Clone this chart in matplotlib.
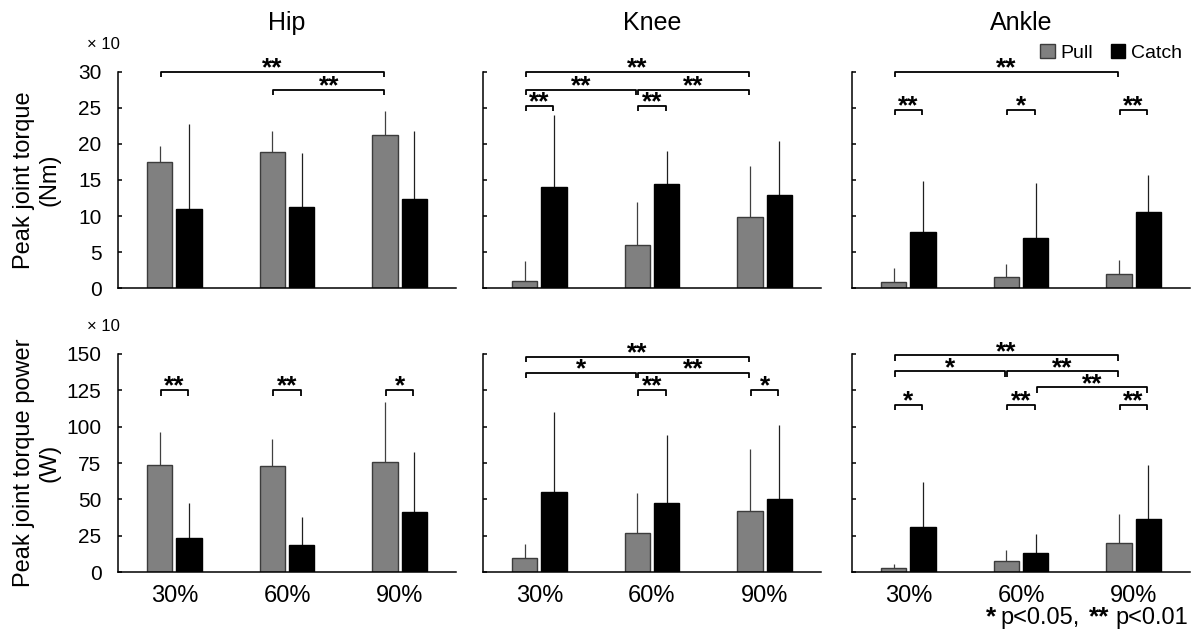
import matplotlib
matplotlib.use('Agg')
import matplotlib.pyplot as plt
import numpy as np

plt.rcParams['font.family'] = ['Liberation Sans', 'DejaVu Sans']

joints = ['Hip', 'Knee', 'Ankle']
speeds = ['30%', '60%', '90%']

# peak joint torque (x10 Nm): means and SD
torque_pull = {'Hip': [17.5, 18.9, 21.2], 'Knee': [0.93, 6.0, 9.9], 'Ankle': [0.83, 1.57, 1.94]}
torque_pull_sd = {'Hip': [2.2, 2.9, 3.4], 'Knee': [2.9, 6.0, 7.0], 'Ankle': [1.9, 1.8, 2.0]}
torque_catch = {'Hip': [11.0, 11.3, 12.4], 'Knee': [14.0, 14.4, 12.9], 'Ankle': [7.8, 7.0, 10.6]}
torque_catch_sd = {'Hip': [11.8, 7.4, 9.4], 'Knee': [10.0, 4.6, 7.5], 'Ankle': [7.1, 7.6, 5.1]}

# peak joint torque power (x10 W): means and SD
power_pull = {'Hip': [73.6, 72.9, 75.9], 'Knee': [9.9, 27.1, 42.3], 'Ankle': [3.0, 7.8, 20.0]}
power_pull_sd = {'Hip': [23.0, 18.9, 41.4], 'Knee': [9.7, 27.2, 42.1], 'Ankle': [2.5, 7.6, 20.0]}
power_catch = {'Hip': [23.7, 18.9, 41.6], 'Knee': [55.0, 47.2, 50.4], 'Ankle': [30.8, 13.1, 36.6]}
power_catch_sd = {'Hip': [23.9, 19.1, 41.2], 'Knee': [55.0, 47.3, 50.6], 'Ankle': [31.2, 13.1, 37.0]}

# significance brackets: (from bar, to bar, level, label); p=Pull, c=Catch, digit=speed index
torque_sig = {
    'Hip': [('p0', 'p2', 30, '**'), ('p1', 'p2', 27.5, '**')],
    'Knee': [('p0', 'p2', 30, '**'), ('p0', 'p1', 27.5, '**'), ('p1', 'p2', 27.5, '**'),
             ('p0', 'c0', 25.3, '**'), ('p1', 'c1', 25.3, '**')],
    'Ankle': [('p0', 'p2', 30, '**'), ('p0', 'c0', 24.7, '**'), ('p1', 'c1', 24.7, '*'),
              ('p2', 'c2', 24.7, '**')],
}
power_sig = {
    'Hip': [('p0', 'c0', 125, '**'), ('p1', 'c1', 125, '**'), ('p2', 'c2', 125, '*')],
    'Knee': [('p0', 'p2', 148, '**'), ('p0', 'p1', 137, '*'), ('p1', 'p2', 137, '**'),
             ('p1', 'c1', 125, '**'), ('p2', 'c2', 125, '*')],
    'Ankle': [('p0', 'p2', 149, '**'), ('p0', 'p1', 138, '*'), ('p1', 'p2', 138, '**'),
              ('c1', 'c2', 127, '**'), ('p0', 'c0', 115, '*'), ('p1', 'c1', 115, '**'),
              ('p2', 'c2', 115, '**')],
}

off = 0.13
width = 0.225


def bar_x(code):
    return int(code[1]) + (-off if code[0] == 'p' else off)


def draw_panel(ax, pull, pull_sd, catch, catch_sd, sigs, ymax, step):
    x = np.arange(len(speeds))
    bp = ax.bar(x - off, pull, width, color='#808080', edgecolor='#3c3c3c', linewidth=1.0, zorder=2, label='Pull')
    bc = ax.bar(x + off, catch, width, color='black', edgecolor='black', linewidth=1.0, zorder=2, label='Catch')
    ax.errorbar(x - off, pull, yerr=[np.zeros(3), pull_sd], fmt='none', ecolor='#404040', elinewidth=0.9, capsize=0, zorder=1)
    ax.errorbar(x + off, catch, yerr=[np.zeros(3), catch_sd], fmt='none', ecolor='#202020', elinewidth=0.9, capsize=0, zorder=1)
    ax.set_xlim(-0.5, 2.5)
    ax.set_ylim(0, ymax)
    ax.set_yticks(np.arange(0, ymax + 1, step))
    ax.spines['top'].set_visible(False)
    ax.spines['right'].set_visible(False)
    ax.spines['left'].set_linewidth(1.1)
    ax.spines['bottom'].set_linewidth(1.1)
    ax.tick_params(axis='y', direction='in', length=3, width=1.1, labelsize=15, pad=12)
    ax.tick_params(axis='x', length=0, labelsize=17, pad=9)
    drop = ymax * 0.025
    for a, b, lev, lab in sigs:
        x1 = bar_x(a) + 0.008
        x2 = bar_x(b) - 0.008
        ax.plot([x1, x1, x2, x2], [lev - drop, lev, lev, lev - drop], color='black', lw=1.3,
                clip_on=False, solid_capstyle='butt', zorder=3)
        ax.annotate(lab, ((x1 + x2) / 2, lev), xytext=(0, -2.5), textcoords='offset points',
                    ha='center', va='baseline', fontsize=19, fontweight='bold', annotation_clip=False)
    return bp, bc


fig = plt.figure(figsize=(11.96, 6.36), dpi=100)
lefts = [0.0987, 0.4038, 0.7124]
w = 0.2826
axes_top = [fig.add_axes([l, 0.547, w, 0.340]) for l in lefts]
axes_bot = [fig.add_axes([l, 0.1006, w, 0.3428]) for l in lefts]

for i, j in enumerate(joints):
    ax = axes_top[i]
    bp, bc = draw_panel(ax, torque_pull[j], torque_pull_sd[j], torque_catch[j], torque_catch_sd[j],
                        torque_sig[j], 30, 5)
    ax.set_xticks(np.arange(3))
    ax.set_xticklabels([])
    ax.set_title(j, fontsize=18, pad=30)
    if i > 0:
        ax.tick_params(labelleft=False)

    ax = axes_bot[i]
    draw_panel(ax, power_pull[j], power_pull_sd[j], power_catch[j], power_catch_sd[j],
               power_sig[j], 150, 25)
    ax.set_xticks(np.arange(3))
    ax.set_xticklabels(speeds)
    if i > 0:
        ax.tick_params(labelleft=False)

axes_top[0].set_ylabel('Peak joint torque\n(Nm)', fontsize=17)
axes_top[0].yaxis.set_label_coords(-0.17, 0.5)
axes_bot[0].set_ylabel('Peak joint torque power\n(W)', fontsize=17)
axes_bot[0].yaxis.set_label_coords(-0.17, 0.5)

# x10 scale marks
for ax in (axes_top[0], axes_bot[0]):
    ax.text(0.005, 1.125, '× 10', transform=ax.transAxes, ha='right', va='center', fontsize=12)

axes_top[2].legend(handles=[bp, bc], labels=['Pull', 'Catch'], loc='upper right',
                   bbox_to_anchor=(1.0, 1.165), ncol=2, frameon=False, fontsize=14,
                   handlelength=0.75, handleheight=0.75, handletextpad=0.3, columnspacing=0.9,
                   borderaxespad=0)

# p-value note
base = 1 - 624 / 636
fig.text(986 / 1196, base, '*', fontsize=19, fontweight='bold', ha='left', va='baseline')
fig.text(1000 / 1196, base, 'p<0.05,', fontsize=17, ha='left', va='baseline')
fig.text(1089 / 1196, base, '**', fontsize=19, fontweight='bold', ha='left', va='baseline')
fig.text(1115 / 1196, base, 'p<0.01', fontsize=17, ha='left', va='baseline')

fig.savefig('out.png', dpi=100)
